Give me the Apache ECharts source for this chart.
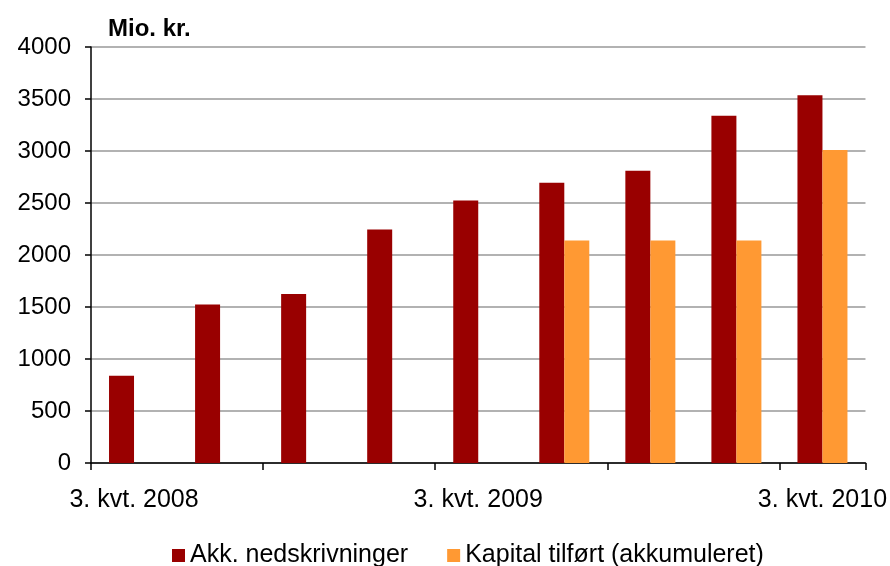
<!DOCTYPE html>
<html>
<head>
<meta charset="utf-8">
<script src="https://cdn.jsdelivr.net/npm/echarts@6/dist/echarts.min.js"></script>
<style>
  html, body { margin: 0; padding: 0; background: #fff; }
  #chart { width: 890px; height: 566px; }
</style>
</head>
<body>
<div id="chart"></div>
<script>
// kvartaler (3. kvt. 2008 .. 3. kvt. 2010)
var categories = ['3. kvt. 2008', '4. kvt. 2008', '1. kvt. 2009', '2. kvt. 2009',
    '3. kvt. 2009', '4. kvt. 2009', '1. kvt. 2010', '2. kvt. 2010', '3. kvt. 2010'];
var nedskrivninger = [840, 1525, 1625, 2245, 2525, 2695, 2810, 3340, 3535];
var kapital = [null, null, null, null, null, 2140, 2140, 2140, 3010];
var yTicks = [0, 500, 1000, 1500, 2000, 2500, 3000, 3500, 4000];

var sans = '"Liberation Sans", Arial, sans-serif';

var myChart = echarts.init(document.getElementById('chart'));
var option = {
    animation: false,
    backgroundColor: '#fff',
    title: {
        text: 'Mio. kr.',
        left: 103,
        top: 12,
        textStyle: { fontFamily: sans, fontSize: 24, fontWeight: 'bold', color: '#000' }
    },
    legend: {
        bottom: -7,
        left: 167,
        itemWidth: 13,
        itemHeight: 13,
        itemGap: 39,
        icon: 'rect',
        textStyle: { fontFamily: sans, fontSize: 25, color: '#000' },
        data: ['Akk. nedskrivninger', 'Kapital tilført (akkumuleret)']
    },
    grid: { left: 91, right: 23, top: 47, bottom: 103 },
    xAxis: {
        type: 'category',
        data: categories,
        axisLine: { lineStyle: { color: '#000', width: 1.5 } },
        axisTick: { show: true, interval: 1, length: 7, lineStyle: { color: '#000', width: 1.5 } },
        axisLabel: {
            interval: 3,
            margin: 25,
            fontFamily: sans,
            fontSize: 25,
            color: '#000'
        }
    },
    yAxis: {
        type: 'value',
        min: yTicks[0],
        max: yTicks[yTicks.length - 1],
        interval: 500,
        axisLine: { show: true, lineStyle: { color: '#000', width: 1.5 } },
        axisTick: { show: true, length: 6, lineStyle: { color: '#000', width: 1.5 } },
        axisLabel: {
            margin: 20,
            fontFamily: sans,
            fontSize: 24,
            color: '#000',
            formatter: function (v) { return String(v); }
        },
        splitLine: { lineStyle: { color: '#999', width: 1.5 } }
    },
    series: [
        {
            name: 'Akk. nedskrivninger',
            type: 'bar',
            data: nedskrivninger,
            barWidth: 25,
            barGap: '0%',
            itemStyle: { color: '#990000' }
        },
        {
            name: 'Kapital tilført (akkumuleret)',
            type: 'bar',
            data: kapital,
            barWidth: 25,
            barGap: '0%',
            itemStyle: { color: '#FF9933' }
        }
    ]
};
myChart.setOption(option);
</script>
</body>
</html>
